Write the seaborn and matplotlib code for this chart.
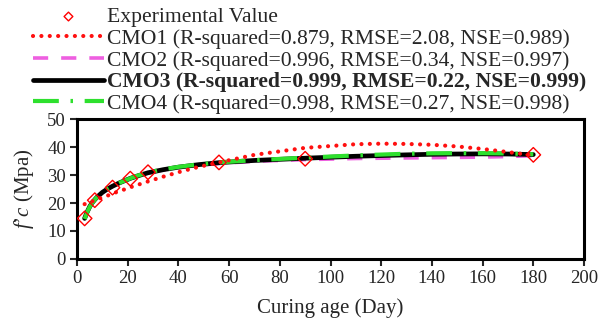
import matplotlib
matplotlib.use("Agg")
import matplotlib.pyplot as plt
import seaborn as sns

# experimental points
exp_day = [3, 7, 14, 21, 28, 56, 90, 180]
exp_fc = [14.5, 21.0, 25.5, 28.7, 31.0, 34.5, 35.8, 37.2]

# model curves
curve_day = [3, 4, 5, 6, 7, 8, 10, 12, 14, 17, 21, 24, 28, 34, 40, 48, 56, 70, 90,
             110, 120, 130, 140, 150, 160, 170, 180]
cmo1 = [19.6, 19.9, 20.3, 20.6, 21.0, 21.3, 22.0, 22.6, 23.4, 24.3, 25.6, 26.5, 27.7,
        29.4, 31.0, 32.9, 34.5, 37.2, 39.7, 41.0, 41.2, 41.1, 40.8, 40.2, 39.3, 38.2, 37.0]
cmo2 = [14.5, 16.7, 18.6, 20.0, 21.2, 22.1, 23.7, 24.9, 25.9, 27.2, 28.7, 29.6, 30.7,
        31.8, 32.6, 33.5, 34.1, 34.9, 35.5, 35.9, 36.0, 36.1, 36.2, 36.3, 36.4, 36.6, 36.9]
cmo3 = [14.5, 16.8, 18.7, 20.1, 21.2, 22.2, 23.8, 25.0, 26.0, 27.3, 28.8, 29.7, 30.8,
        31.9, 32.8, 33.7, 34.4, 35.2, 36.0, 36.7, 36.95, 37.2, 37.4, 37.5, 37.55, 37.5, 37.3]
cmo4 = [14.3, 16.7, 18.6, 20.0, 21.2, 22.2, 23.8, 25.0, 26.0, 27.3, 28.8, 29.8, 30.9,
        32.0, 32.9, 33.8, 34.5, 35.3, 36.2, 37.0, 37.3, 37.6, 37.75, 37.8, 37.8, 37.7, 37.4]

labels = ["Experimental Value",
          "CMO1 (R-squared=0.879, RMSE=2.08, NSE=0.989)",
          "CMO2 (R-squared=0.996, RMSE=0.34, NSE=0.997)",
          "CMO3 (R-squared=0.999, RMSE=0.22, NSE=0.999)",
          "CMO4 (R-squared=0.998, RMSE=0.27, NSE=0.998)"]

sns.set_style("white")
plt.rcParams["font.family"] = ["Liberation Serif", "DejaVu Serif"]
plt.rcParams["mathtext.fontset"] = "custom"
plt.rcParams["mathtext.rm"] = "Liberation Serif"
plt.rcParams["mathtext.it"] = "Liberation Serif:italic"

fig = plt.figure(figsize=(5.98, 3.25), dpi=100)
ax = fig.add_axes([0.1288, 0.2031, 0.8478, 0.4307])

sns.lineplot(x=curve_day, y=cmo2, ax=ax, color="#ee5fe0", lw=2.6,
             linestyle=(0, (4.2, 3.6)), label=labels[2])
sns.lineplot(x=curve_day, y=cmo3, ax=ax, color="black", lw=3.4, label=labels[3])
sns.lineplot(x=curve_day, y=cmo4, ax=ax, color="#2ee02e", lw=3.0,
             linestyle=(0, (6.2, 2.8, 0.6, 2.8)), label=labels[4])
sns.lineplot(x=curve_day, y=cmo1, ax=ax, color="#ff1010", lw=3.0,
             linestyle=(0, (0.01, 2.0)), dash_capstyle="round", label=labels[1])
sns.scatterplot(x=exp_day, y=exp_fc, ax=ax, marker="D", s=55,
                facecolor="none", edgecolor="red", linewidth=1.0,
                label=labels[0], zorder=5)

ax.set_xlim(0, 200)
ax.set_ylim(0, 50)
ax.set_xticks(range(0, 201, 20))
ax.set_yticks(range(0, 51, 10))
ax.tick_params(axis="both", direction="out", length=5, width=1.5,
               labelsize=13.5, pad=3, bottom=True, left=True)
for s in ax.spines.values():
    s.set_linewidth(2.2)
    s.set_color("black")
ax.set_xlabel("Curing age (Day)", fontsize=15, labelpad=8)
ax.set_ylabel("$f\u2019c$ (Mpa)", fontsize=15, labelpad=8)

h, l = ax.get_legend_handles_labels()
order = [l.index(t) for t in labels]
ax.get_legend().remove()
leg = fig.legend([h[i] for i in order], [l[i] for i in order],
                 loc="upper left", bbox_to_anchor=(0.052, 0.985),
                 fontsize=15.6, frameon=False, handlelength=3.25,
                 handletextpad=0.15, labelspacing=0.07, markerscale=0.6,
                 borderaxespad=0, borderpad=0.1)
leg.get_texts()[3].set_fontweight("bold")

fig.savefig("out.png", dpi=100)
